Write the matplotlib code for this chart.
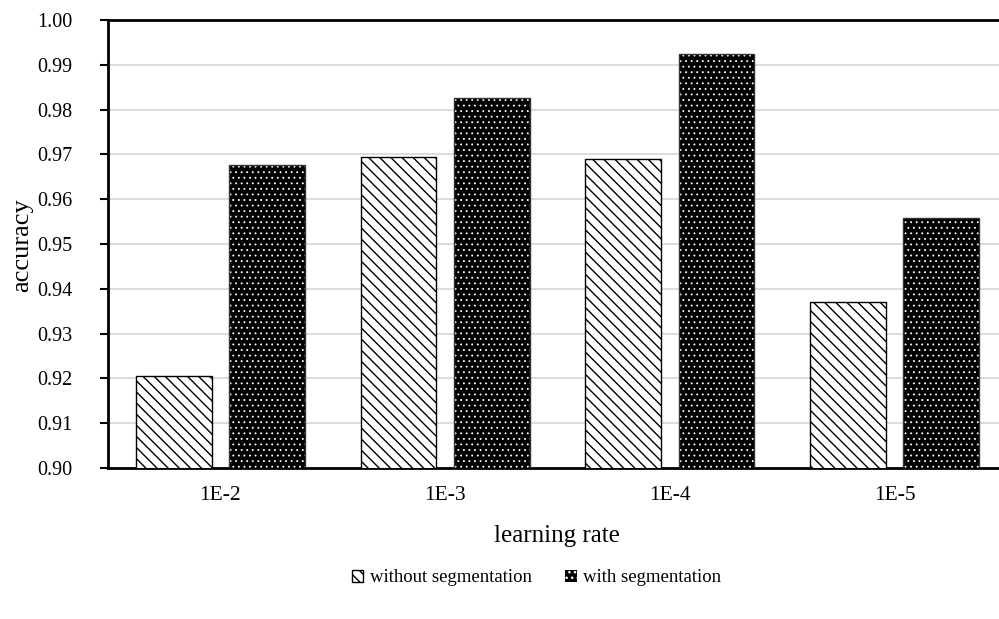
import matplotlib
matplotlib.use("Agg")
import matplotlib.pyplot as plt
import numpy as np

categories = ["1E-2", "1E-3", "1E-4", "1E-5"]
without_seg = [0.9205, 0.9694, 0.9690, 0.9371]
with_seg = [0.9677, 0.9827, 0.9925, 0.9557]
yticks = [0.90, 0.91, 0.92, 0.93, 0.94, 0.95, 0.96, 0.97, 0.98, 0.99, 1.00]

plt.rcParams['font.family'] = ['Liberation Serif', 'DejaVu Serif']
plt.rcParams['font.size'] = 14

W, H = 999, 619
fig = plt.figure(figsize=(W / 100, H / 100), dpi=100)
ax = fig.add_axes([108 / W, 1 - 468 / H, 899 / W, 448 / H])

x = np.arange(len(categories))
bw = 0.337
off = 0.207

with plt.rc_context({'hatch.linewidth': 1.0}):
    ax.bar(x - off, without_seg, bw, color='white', edgecolor='black', linewidth=1.0,
           hatch='\\\\\\', label='without segmentation', zorder=3)
with plt.rc_context({'hatch.linewidth': 0.6}):
    ax.bar(x + off, with_seg, bw, color='black', edgecolor='white', linewidth=0,
           hatch='...', label='with segmentation', zorder=3)
ax.bar(x + off, with_seg, bw, color='none', edgecolor='#333333', linewidth=1.0, zorder=4)

ax.set_xlim(-0.5, len(categories) - 0.5)
ax.set_ylim(0.90, 1.00)
ax.set_yticks(yticks)
ax.set_yticklabels([f"{v:.2f}" for v in yticks], fontsize=14.5)
ax.set_xticks(x)
ax.set_xticklabels(categories, fontsize=15.5)

ax.yaxis.grid(True, color='#d9d9d9', linewidth=1.3, zorder=0)
ax.set_axisbelow(True)
ax.tick_params(axis='y', direction='out', length=5.8, width=1.5, pad=20, color='black')
ax.tick_params(axis='x', length=0, pad=13)
for s in ['left', 'bottom', 'top']:
    ax.spines[s].set_linewidth(2)
    ax.spines[s].set_color('black')
ax.spines['right'].set_visible(False)

ax.set_xlabel('learning rate', fontsize=18, va='baseline')
ax.xaxis.set_label_coords(0.4994, (468 - 541.7) / 448)
ax.set_ylabel('accuracy', fontsize=19, va='center')
ax.yaxis.set_label_coords((22 - 108) / 899, 0.497)

ax.legend(loc='center', bbox_to_anchor=(0.537, 1 - 578 / H), bbox_transform=fig.transFigure,
          ncol=2, frameon=False, handlelength=0.6, handleheight=0.6, handletextpad=0.35,
          columnspacing=1.8, fontsize=13.5)

fig.savefig('out.png', dpi=100)
